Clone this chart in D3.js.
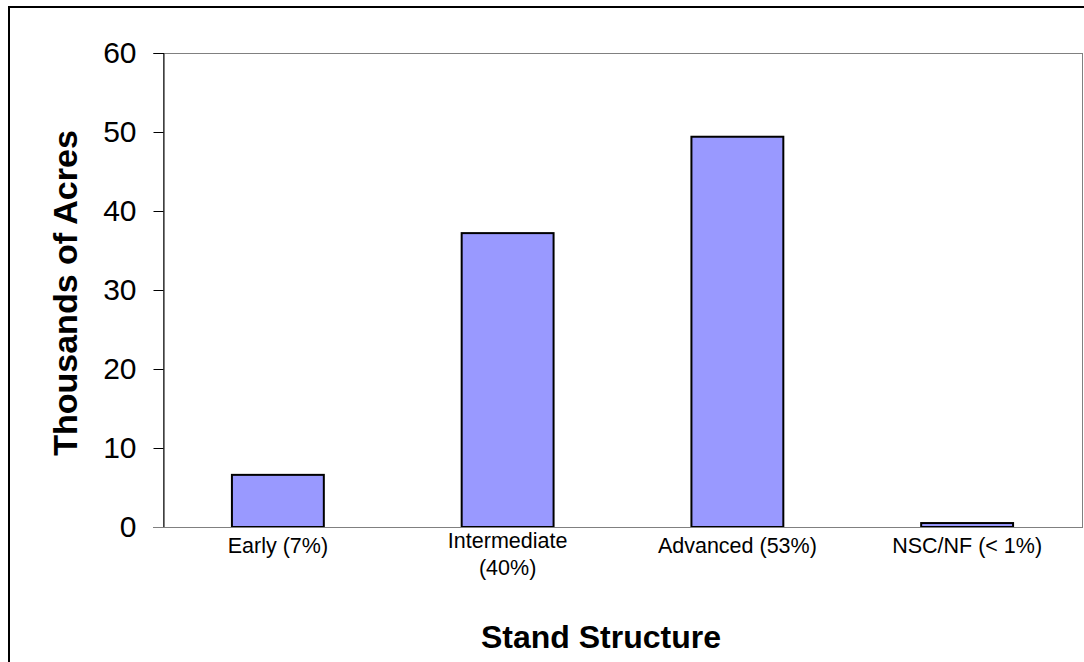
<!DOCTYPE html>
<html>
<head>
<meta charset="utf-8">
<script src="https://cdn.jsdelivr.net/npm/d3@7"></script>
<style>
  body { margin: 0; background: #fff; }
  svg { display: block; font-family: Arial, "Liberation Sans", sans-serif; }
</style>
</head>
<body>
<svg id="chart"></svg>
<script>
// chart data
var categories = ['Early (7%)', 'Intermediate|(40%)', 'Advanced (53%)', 'NSC/NF (< 1%)'];
var acres = [6.6, 37.2, 49.4, 0.5];
var yTicks = [0, 10, 20, 30, 40, 50, 60];

var width = 1084;
var height = 662;
var margin = {left: 163, top: 53, right: 2, bottom: 135}; // plot area box

var svg = d3.select('#chart')
  .attr('width', width)
  .attr('height', height);

// outer frame (runs off the right and bottom edges)
svg.append('rect')
  .attr('x', 9).attr('y', 7)
  .attr('width', 1200).attr('height', 800)
  .attr('fill', 'none')
  .attr('stroke', '#000')
  .attr('stroke-width', 2);

var x = d3.scaleBand()
  .domain(categories)
  .range([margin.left, width - margin.right])
  .paddingInner(0.6)
  .paddingOuter(0.3);

var y = d3.scaleLinear()
  .domain([0, 60])
  .range([height - margin.bottom, margin.top]);

// plot area border (top/right gray)
svg.append('rect')
  .attr('x', margin.left + 0.5)
  .attr('y', margin.top + 0.5)
  .attr('width', width - margin.right - margin.left)
  .attr('height', y(0) - margin.top)
  .attr('fill', 'none')
  .attr('stroke', '#808080')
  .attr('stroke-width', 1);

// bars
svg.selectAll('rect.bar')
  .data(acres)
  .enter()
  .append('rect')
    .attr('class', 'bar')
    .attr('x', (d, i) => x(categories[i]))
    .attr('y', d => y(d))
    .attr('width', x.bandwidth())
    .attr('height', d => y(0) - y(d))
    .attr('fill', '#9999FF')
    .attr('stroke', '#000')
    .attr('stroke-width', 2);

// y axis
var yAxis = svg.append('g')
  .attr('transform', 'translate(' + (margin.left + 0.5) + ',0)')
  .call(d3.axisLeft(y).tickValues(yTicks).tickSize(10).tickPadding(17));
yAxis.select('.domain').attr('stroke', '#000');
yAxis.selectAll('.tick line').attr('stroke', '#000');
yAxis.selectAll('.tick text')
  .attr('font-size', 30)
  .attr('font-family', 'Arial, "Liberation Sans", sans-serif')
  .attr('fill', '#000');

// x baseline
svg.append('line')
  .attr('x1', margin.left - 10).attr('x2', width - margin.right)
  .attr('y1', y(0) + 0.5).attr('y2', y(0) + 0.5)
  .attr('stroke', '#808080');

// category labels
svg.selectAll('text.cat')
  .data(categories)
  .enter()
  .append('text')
    .attr('class', 'cat')
    .attr('text-anchor', 'middle')
    .attr('font-size', 21.5)
    .attr('fill', '#000')
    .each(function(d) {
      var lines = d.split('|');
      var cx = x(d) + x.bandwidth() / 2;
      var t = d3.select(this);
      lines.forEach(function(line, j) {
        t.append('tspan')
          .attr('x', cx)
          .attr('y', lines.length > 1 ? y(0) + 21 + j * 27 : y(0) + 26)
          .text(line);
      });
    });

// axis titles
svg.append('text')
  .attr('transform', 'translate(77,293) rotate(-90)')
  .attr('text-anchor', 'middle')
  .attr('font-size', 34)
  .attr('font-weight', 'bold')
  .text('Thousands of Acres');

svg.append('text')
  .attr('x', 601)
  .attr('y', 648)
  .attr('text-anchor', 'middle')
  .attr('font-size', 32)
  .attr('font-weight', 'bold')
  .text('Stand Structure');
</script>
</body>
</html>
